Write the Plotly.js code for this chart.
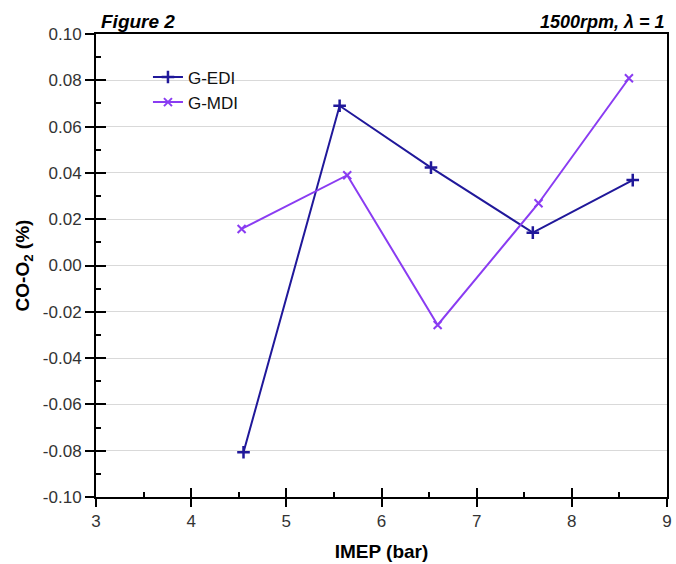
<!DOCTYPE html>
<html>
<head>
<meta charset="utf-8">
<script src="https://cdn.plot.ly/plotly-3.0.1.min.js"></script>
<style>html,body{margin:0;padding:0;background:#fff;}#chart{width:676px;height:564px;}</style>
</head>
<body>
<div id="chart"></div>
<script>
const seriesNames = ["G-EDI", "G-MDI"];
const edi_x = [4.55, 5.56, 6.52, 7.59, 8.64];
const edi_y = [-0.0807, 0.069, 0.0423, 0.0142, 0.0369];
const mdi_x = [4.53, 5.64, 6.59, 7.65, 8.60];
const mdi_y = [0.0158, 0.039, -0.0257, 0.0269, 0.0809];
const xTicks = [3, 4, 5, 6, 7, 8, 9];
const yTicks = [-0.10, -0.08, -0.06, -0.04, -0.02, 0.00, 0.02, 0.04, 0.06, 0.08, 0.10];
const yTickLabels = ["-0.10", "-0.08", "-0.06", "-0.04", "-0.02", "0.00", "0.02", "0.04", "0.06", "0.08", "0.10"];

const FONT = "Liberation Sans, Arial, sans-serif";
const EDI_COLOR = "#20189a";
const MDI_COLOR = "#8a3cf2";

const data = [
  {x: edi_x, y: edi_y, name: seriesNames[0], type: "scatter", mode: "lines+markers",
   line: {color: EDI_COLOR, width: 2},
   marker: {symbol: "cross-thin", size: 9, line: {color: EDI_COLOR, width: 2.5}}},
  {x: mdi_x, y: mdi_y, name: seriesNames[1], type: "scatter", mode: "lines+markers",
   line: {color: MDI_COLOR, width: 2},
   marker: {symbol: "x-thin", size: 8, line: {color: MDI_COLOR, width: 2}}},
  {x: [], y: [], xaxis: "x2", yaxis: "y2", showlegend: false, hoverinfo: "skip"}
];

const layout = {
  width: 676, height: 564,
  margin: {l: 96, r: 9, t: 34, b: 67},
  paper_bgcolor: "#fff", plot_bgcolor: "#fff",
  font: {family: FONT, color: "#000", size: 17},
  showlegend: true,
  legend: {x: 0.091, y: 0.945, xanchor: "left", yanchor: "top", bgcolor: "rgba(0,0,0,0)",
           font: {family: FONT, size: 17, color: "#111"}, tracegroupgap: 0},
  xaxis: {range: [3, 9], tickvals: xTicks, ticktext: xTicks.map(String),
          ticks: "outside", ticklen: 8, tickwidth: 2, tickcolor: "#000",
          showline: true, linewidth: 2, linecolor: "#000", mirror: true,
          showgrid: false, zeroline: false,
          tickfont: {family: FONT, size: 17, color: "#333"},
          title: {text: "IMEP (bar)", font: {family: FONT, size: 19, color: "#000", weight: "bold"}, standoff: 14}},
  yaxis: {range: [-0.10, 0.10], tickvals: yTicks, ticktext: yTickLabels,
          ticks: "outside", ticklen: 9, tickwidth: 2, tickcolor: "#000",
          showline: true, linewidth: 2, linecolor: "#000", mirror: true,
          showgrid: true, gridcolor: "#d9d9d9", gridwidth: 1, zeroline: false,
          tickfont: {family: FONT, size: 17, color: "#333"},
          title: {text: "CO-O<sub>2</sub> (%)", font: {family: FONT, size: 19, color: "#000", weight: "bold"}, standoff: 8}},
  xaxis2: {overlaying: "x", range: [3, 9], tickvals: xTicks, showticklabels: false,
           ticks: "inside", ticklen: 9, tickwidth: 2, tickcolor: "#000",
           minor: {dtick: 0.5, ticks: "inside", ticklen: 5, tickwidth: 2, tickcolor: "#000"},
           showline: false, showgrid: false, zeroline: false},
  yaxis2: {overlaying: "y", range: [-0.10, 0.10], tickvals: yTicks, showticklabels: false,
           ticks: "inside", ticklen: 10, tickwidth: 2, tickcolor: "#000",
           minor: {dtick: 0.01, ticks: "inside", ticklen: 5, tickwidth: 2, tickcolor: "#000"},
           showline: false, showgrid: false, zeroline: false},
  annotations: [
    {text: "<b><i>Figure 2</i></b>", xref: "paper", yref: "paper", x: 0.005, y: 1, xanchor: "left", yanchor: "bottom",
     showarrow: false, font: {family: FONT, size: 19, color: "#000"}},
    {text: "<b><i>1500rpm, λ = 1</i></b>", xref: "paper", yref: "paper", x: 1, y: 1, xanchor: "right", yanchor: "bottom",
     showarrow: false, font: {family: FONT, size: 18, color: "#000"}}
  ]
};

Plotly.newPlot("chart", data, layout, {displayModeBar: false, staticPlot: true});
</script>
</body>
</html>
